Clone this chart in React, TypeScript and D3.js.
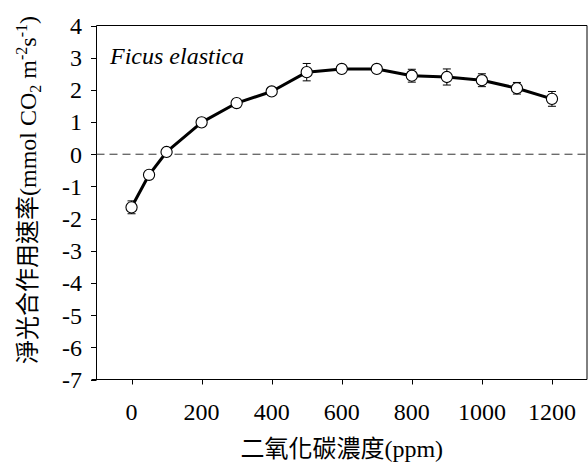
import React from "react";
import * as d3 from "d3";

const co2 = [0, 50, 100, 200, 300, 400, 500, 600, 700, 800, 900, 1000, 1100, 1200];
const rate = [-1.65, -0.64, 0.07, 0.99, 1.59, 1.95, 2.55, 2.65, 2.65, 2.44, 2.4, 2.3, 2.05, 1.72];
const rateErr = [0.2, 0.05, 0.05, 0.13, 0.1, 0.1, 0.27, 0.1, 0.1, 0.2, 0.25, 0.2, 0.18, 0.23];
const xTicks = [0, 200, 400, 600, 800, 1000, 1200];
const yTicks = [4, 3, 2, 1, 0, -1, -2, -3, -4, -5, -6, -7];
const speciesLabel = "Ficus elastica";
const xTitle = "二氧化碳濃度(ppm)";

const W = 588;
const H = 464;
const FONT = "'Liberation Serif', 'Times New Roman', 'Noto Sans CJK TC', serif";

export default function App() {
  const left = 96.5;
  const right = 587;
  const top = 25.5;
  const bottom = 379.5;
  const x = d3.scaleLinear().domain([-100, 1300]).range([left, right]);
  const y = d3.scaleLinear().domain([-7, 4]).range([bottom, top]);

  const line = d3
    .line<number>()
    .x((_, i) => x(co2[i]))
    .y((d) => y(d));

  return (
    <svg
      width={W}
      height={H}
      style={{ position: "absolute", left: 0, top: 0, background: "#fff" }}
      fontFamily={FONT}
    >
      {/* frame */}
      <line x1={left} x2={right} y1={top} y2={top} stroke="#000" strokeWidth={1} />
      <line x1={right} x2={right} y1={top} y2={bottom} stroke="#000" strokeWidth={1} />
      <line x1={left} x2={left} y1={top} y2={bottom} stroke="#000" strokeWidth={1} />
      <line x1={left - 5} x2={right} y1={bottom} y2={bottom} stroke="#000" strokeWidth={1} />

      {/* y ticks */}
      {yTicks.map((t) => (
        <g key={"y" + t}>
          <line x1={left - 5.5} x2={left} y1={Math.round(y(t)) + 0.5} y2={Math.round(y(t)) + 0.5} stroke="#000" />
          <text x={82} y={y(t)} dy="0.35em" textAnchor="end" fontSize={24} fill="#000">
            {t}
          </text>
        </g>
      ))}

      {/* x ticks */}
      {xTicks.map((t) => (
        <g key={"x" + t}>
          <line x1={Math.round(x(t)) + 0.5} x2={Math.round(x(t)) + 0.5} y1={bottom} y2={bottom + 5} stroke="#000" />
          <text x={x(t)} y={419.5} textAnchor="middle" fontSize={24} fill="#000">
            {t}
          </text>
        </g>
      ))}

      {/* zero dashed line */}
      <line
        x1={left}
        x2={right}
        y1={y(0)}
        y2={y(0)}
        stroke="#333"
        strokeWidth={1}
        strokeDasharray="8,5"
      />

      {/* error bars */}
      {rate.map((v, i) => {
        const cx = x(co2[i]);
        const y1 = y(v + rateErr[i]);
        const y2 = y(v - rateErr[i]);
        return (
          <g key={"e" + i} stroke="#000" strokeWidth={1}>
            <line x1={cx} x2={cx} y1={y1} y2={y2} />
            <line x1={cx - 4} x2={cx + 4} y1={y1} y2={y1} />
            <line x1={cx - 4} x2={cx + 4} y1={y2} y2={y2} />
          </g>
        );
      })}

      {/* series line */}
      <path d={line(rate) || ""} fill="none" stroke="#000" strokeWidth={3} strokeLinejoin="round" />

      {/* markers */}
      {rate.map((v, i) => (
        <circle key={"c" + i} cx={x(co2[i])} cy={y(v)} r={5.6} fill="#fff" stroke="#000" strokeWidth={1.1} />
      ))}

      {/* species label */}
      <text x={110} y={63.5} fontSize={24} fontStyle="italic" fill="#000">
        {speciesLabel}
      </text>

      {/* x title */}
      <text x={(left + right) / 2} y={456.5} textAnchor="middle" fontSize={24} fill="#000">
        {xTitle}
      </text>

      {/* y title */}
      <text
        transform="translate(36,190) rotate(-90)"
        textAnchor="middle"
        fontSize={24}
        fill="#000"
      >
        淨光合作用速率(mmol CO
        <tspan fontSize={16} dy={5}>2</tspan>
        <tspan dy={-5}> m</tspan>
        <tspan fontSize={16} dy={-9}>-2</tspan>
        <tspan dy={9}>s</tspan>
        <tspan fontSize={16} dy={-9}>-1</tspan>
        <tspan dy={9}>)</tspan>
      </text>
    </svg>
  );
}
